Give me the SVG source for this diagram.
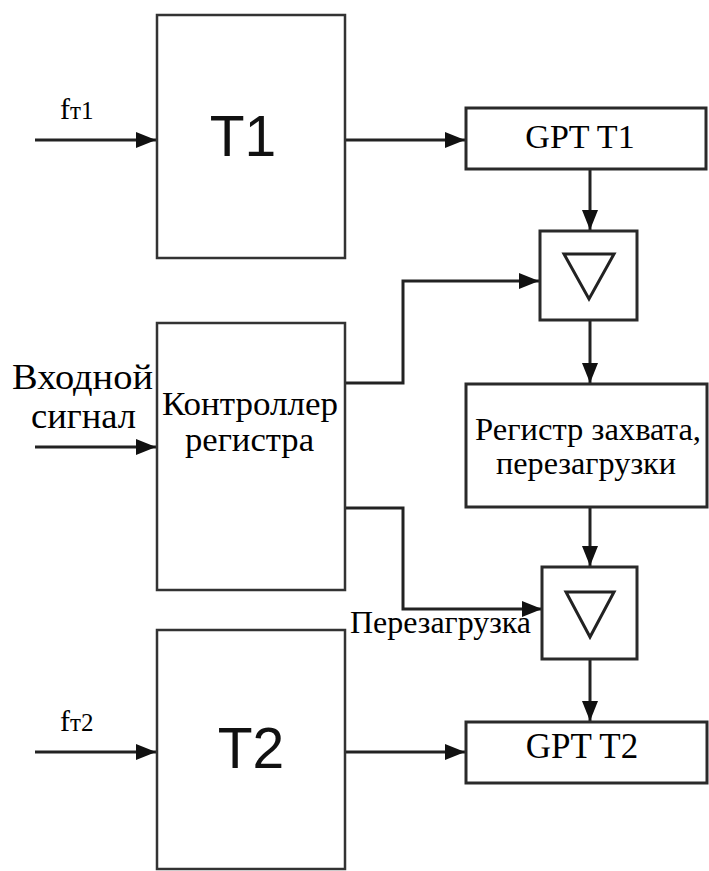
<svg xmlns="http://www.w3.org/2000/svg" width="709" height="871" viewBox="0 0 709 871">
<style>
.box{fill:#fff;stroke:#2a2a2a;stroke-width:3}
.thin{fill:#fff;stroke:#333;stroke-width:2.5}
.line{fill:none;stroke:#222;stroke-width:3}
.tri{fill:none;stroke:#222;stroke-width:3;stroke-linejoin:miter}
.serif{font-family:"Liberation Serif","Times New Roman",serif;fill:#000}
.sans{font-family:"Liberation Sans",Arial,sans-serif;fill:#111}
</style>
<defs>
<marker id="ah" markerUnits="userSpaceOnUse" markerWidth="22" markerHeight="16" refX="20" refY="8" orient="auto">
<path d="M0,0 L20,8 L0,16 z" fill="#111"/>
</marker>
</defs>
<rect width="709" height="871" fill="#fff"/>
<g id="connectors">
<path class="line" d="M35,140 H156" marker-end="url(#ah)"/>
<path class="line" d="M345,140 H465" marker-end="url(#ah)"/>
<path class="line" d="M590,169 V230" marker-end="url(#ah)"/>
<path class="line" d="M345,383 H403 V281 H539" marker-end="url(#ah)"/>
<path class="line" d="M590,320 V383" marker-end="url(#ah)"/>
<path class="line" d="M590,507 V566" marker-end="url(#ah)"/>
<path class="line" d="M345,508 H403 V609 H542" marker-end="url(#ah)"/>
<path class="line" d="M590,659 V721" marker-end="url(#ah)"/>
<path class="line" d="M35,447 H156" marker-end="url(#ah)"/>
<path class="line" d="M35,752 H156" marker-end="url(#ah)"/>
<path class="line" d="M345,752 H465" marker-end="url(#ah)"/>
</g>
<g id="label-f1"><text class="serif" x="60" y="119" font-size="30">f<tspan font-size="25">т1</tspan></text></g>
<g id="label-f2"><text class="serif" x="60" y="731" font-size="30">f<tspan font-size="25">т2</tspan></text></g>
<g id="label-input">
<text class="serif" x="12" y="389" font-size="35" textLength="141" lengthAdjust="spacingAndGlyphs">Входной</text>
<text class="serif" x="31" y="428" font-size="35" textLength="105" lengthAdjust="spacingAndGlyphs">сигнал</text>
</g>
<g id="label-reload"><text class="serif" x="350" y="633" font-size="31" textLength="181" lengthAdjust="spacingAndGlyphs">Перезагрузка</text></g>
<g id="T1">
<rect class="thin" x="157" y="15" width="188" height="243"/>
<text class="sans" x="243" y="156" font-size="57" text-anchor="middle">T1</text>
</g>
<g id="controller">
<rect class="thin" x="157" y="323" width="188" height="267"/>
<text class="serif" x="162" y="415" font-size="33" textLength="176" lengthAdjust="spacingAndGlyphs">Контроллер</text>
<text class="serif" x="185" y="451" font-size="33" textLength="129" lengthAdjust="spacingAndGlyphs">регистра</text>
</g>
<g id="T2">
<rect class="thin" x="157" y="630" width="188" height="239"/>
<text class="sans" x="251" y="768" font-size="57" text-anchor="middle">T2</text>
</g>
<g id="gptT1">
<rect class="box" x="466" y="108" width="240" height="61"/>
<text class="serif" x="580" y="148" font-size="34" text-anchor="middle">GPT T1</text>
</g>
<g id="cmp1">
<rect class="box" x="540" y="231" width="97" height="89"/>
<path class="tri" d="M564,254 H614 L589,299 z"/>
</g>
<g id="register">
<rect class="box" x="466" y="384" width="241" height="123"/>
<text class="serif" x="475" y="440" font-size="32" textLength="226" lengthAdjust="spacingAndGlyphs">Регистр захвата,</text>
<text class="serif" x="496" y="474" font-size="32" textLength="180" lengthAdjust="spacingAndGlyphs">перезагрузки</text>
</g>
<g id="cmp2">
<rect class="box" x="542" y="567" width="95" height="92"/>
<path class="tri" d="M566,592 H614 L590,637 z"/>
</g>
<g id="gptT2">
<rect class="box" x="466" y="722" width="241" height="61"/>
<text class="serif" x="582" y="758" font-size="35" text-anchor="middle">GPT T2</text>
</g>
</svg>
